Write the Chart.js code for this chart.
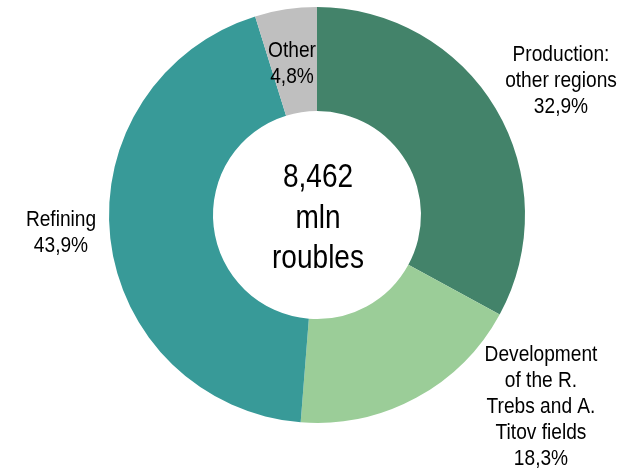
<!DOCTYPE html>
<html>
<head>
<meta charset="utf-8">
<script src="https://cdn.jsdelivr.net/npm/chart.js@4"></script>
<style>
    html, body { margin: 0; padding: 0; background: #fff; }
    canvas { display: block; }
</style>
</head>
<body>
<canvas id="chart" width="625" height="476"></canvas>
<script>
const categories = ['Production:\nother regions', 'Development\nof the R.\nTrebs and A.\nTitov fields', 'Refining', 'Other'];
const shares = [32.9, 18.3, 43.9, 4.8];
const shareLabels = ['32,9%', '18,3%', '43,9%', '4,8%'];
const totalLines = ['8,462', 'mln', 'roubles'];

const colors = ['#43836A', '#9BCD98', '#389A98', '#BFBFBF'];
const font = "'Liberation Sans', Arial, sans-serif";

// centre x and first baseline of each label block
const labelPos = [[561, 61], [541, 361], [61, 226], [292, 57]];

// reference uses a condensed face, so squeeze the text horizontally
function narrowText(ctx, text, x, y, k) {
    ctx.save();
    ctx.translate(x, y);
    ctx.scale(k, 1);
    ctx.fillText(text, 0, 0);
    ctx.restore();
}

const labelPlugin = {
    id: 'labels',
    afterDraw(chart) {
        const ctx = chart.ctx;
        const arc = chart.getDatasetMeta(0).data[0];
        ctx.save();
        ctx.fillStyle = '#000';
        ctx.textAlign = 'center';
        ctx.textBaseline = 'alphabetic';

        ctx.font = '22px ' + font;
        categories.forEach((c, i) => {
            const lines = c.split('\n').concat(shareLabels[i]);
            lines.forEach((l, j) => narrowText(ctx, l, labelPos[i][0], labelPos[i][1] + j * 26, 0.87));
        });

        ctx.font = '33px ' + font;
        totalLines.forEach((l, j) => narrowText(ctx, l, arc.x + 1, arc.y - 28 + j * 40.5, 0.85));
        ctx.restore();
    }
};

new Chart(document.getElementById('chart'), {
    type: 'doughnut',
    data: {
        labels: categories,
        datasets: [{ data: shares, backgroundColor: colors, borderWidth: 0 }]
    },
    options: {
        responsive: false,
        animation: false,
        cutout: '50%',
        layout: { padding: { left: 109, right: 100, top: 7, bottom: 53 } },
        plugins: { legend: { display: false }, tooltip: { enabled: false } }
    },
    plugins: [labelPlugin]
});
</script>
</body>
</html>
